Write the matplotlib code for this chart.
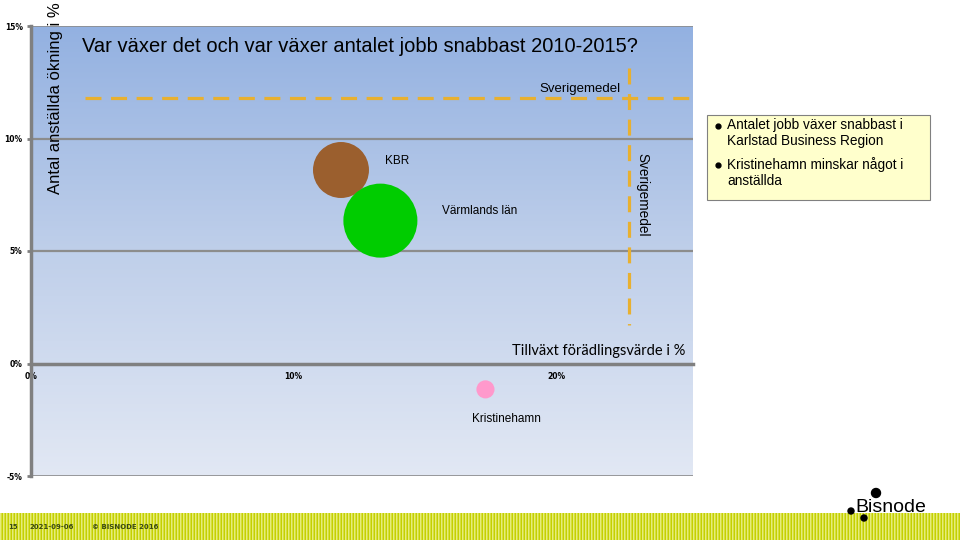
import numpy as np
import matplotlib
matplotlib.use("Agg")
import matplotlib.pyplot as plt
from matplotlib.patches import Rectangle, Circle
from matplotlib.colors import LinearSegmentedColormap

# ---------------- data ----------------
regions = ["KBR", "Värmlands län", "Kristinehamn"]
growth_value_added = [11.8, 13.3, 17.3]      # x, %
growth_employees = [8.6, 6.35, -1.15]        # y, %
bubble_size = [1625, 2840, 170]              # relative bubble area
bubble_colors = ["#9B5F2E", "#00CC00", "#FF99CC"]
sverige_x = 22.75
sverige_y = 11.8
y_ticks = [-5, 0, 5, 10, 15]
y_tick_labels = ["-5%", "0%", "5%", "10%", "15%"]
x_ticks = [0, 5, 10, 15, 20]
x_tick_labels = ["0%", "", "10%", "", "20%"]

title = "Var växer det och var växer antalet jobb snabbast 2010-2015?"
ylabel = "Antal anställda ökning i %"
xlabel = "Tillväxt förädlingsvärde i %"
bullets = ["Antalet jobb växer snabbast i\nKarlstad Business Region",
           "Kristinehamn minskar något i\nanställda"]

W, H = 960, 540
fig = plt.figure(figsize=(9.6, 5.4), dpi=100)
fig.patch.set_facecolor("white")

# overlay for decorations in pixel coords
ov = fig.add_axes([0, 0, 1, 1], zorder=0)
ov.axis("off")

# footer band
band = np.zeros((1, W))
band[0, ::3] = 1
band[0, 1::3] = 0.5
cm = LinearSegmentedColormap.from_list("f", ["#C4D000", "#E6EC7A"])
ov.imshow(band, extent=(0, W, 540, 513), aspect="auto", cmap=cm, zorder=1, interpolation="nearest")
ov.set_xlim(0, W)
ov.set_ylim(H, 0)
for tx, t in [(8, "15"), (30, "2021-09-06"), (92, "© BISNODE 2016")]:
    ov.text(tx, 527, t, fontsize=5, fontweight="bold", color="#3A4A10", va="center", ha="left", zorder=3)

# Bisnode logo
ov.text(855, 508, "Bisnode", fontsize=14, color="black", va="center", ha="left",
        family="Liberation Sans", zorder=4)
for (cx, cy, r) in [(876, 493, 4.5), (851, 511, 3), (864, 518, 3)]:
    ov.add_patch(Circle((cx, cy), r, color="black", zorder=4))

# ---------------- main axes ----------------
x0, x1, ytop, ybot = 31, 693, 26, 476
ax = fig.add_axes([x0 / W, 1 - ybot / H, (x1 - x0) / W, (ybot - ytop) / H], zorder=2)
ax.set_xlim(0, 25.2)
ax.set_ylim(-5, 15)

grad = np.linspace(1, 0, 256).reshape(-1, 1)
gcm = LinearSegmentedColormap.from_list("g", ["#E2E8F4", "#BFCFEA", "#93B1E1"])
ax.imshow(grad, extent=(0, 25.2, -5, 15), aspect="auto", cmap=gcm, zorder=0, origin="upper")

for s in ["top", "right"]:
    ax.spines[s].set_visible(False)
ax.spines["left"].set_color("#808080")
ax.spines["left"].set_linewidth(2.5)
ax.spines["bottom"].set_position(("data", 0))
ax.spines["bottom"].set_color("#808080")
ax.spines["bottom"].set_linewidth(2.5)
ax.spines["bottom"].set_zorder(1.5)

# grid and borders
for gy in [5, 10]:
    ax.axhline(gy, color="#8C8C8C", lw=1.6, zorder=1)
ax.axhline(15, color="#8C8C8C", lw=1.2, zorder=1)
ax.axhline(-5, color="#808080", lw=1.8, zorder=1)

ax.set_yticks(y_ticks)
ax.set_yticklabels(y_tick_labels, fontsize=5.5, fontweight="bold")
ax.tick_params(axis="y", length=3, width=2, color="#808080", pad=3)
ax.set_xticks(x_ticks)
ax.set_xticklabels(x_tick_labels, fontsize=5.5, fontweight="bold")
ax.tick_params(axis="x", length=2, width=2, color="#808080", pad=5, direction="inout")

# Sverigemedel lines
ax.plot([2.05, 25.2], [sverige_y, sverige_y], color="#E8B030", lw=2.3,
        dashes=(5, 3), zorder=3, clip_on=False)
ax.plot([sverige_x, sverige_x], [13.15, 1.7], color="#E8B030", lw=2.3,
        dashes=(5, 3), zorder=3)
ax.text(sverige_x - 0.3, sverige_y + 0.15, "Sverigemedel", fontsize=9.5, ha="right",
        va="bottom", family="Liberation Sans", zorder=4)
ax.text(sverige_x + 0.25, 7.5, "Sverigemedel", fontsize=9.8, rotation=-90, ha="left",
        va="center", family="Liberation Sans", zorder=4)

# bubbles
ax.scatter(growth_value_added, growth_employees, s=bubble_size, c=bubble_colors,
           zorder=5, linewidths=0)
label_pos = [(2.15, 0.4, "center"), (2.35, 0.45, "left"), (0.8, -1.3, "center")]
for xv, yv, name, (dx, dy, ha) in zip(growth_value_added, growth_employees, regions, label_pos):
    ax.text(xv + dx, yv + dy, name, fontsize=8.5, ha=ha, va="center",
            family="Liberation Sans", zorder=6)

ax.text(24.9, 0.25, xlabel, fontsize=10.5, ha="right", va="bottom", family="Lato", zorder=6)

# title and y label
fig.text(82 / W, 1 - 47 / H, title, fontsize=14.5, ha="left", va="center",
         family="Liberation Sans", zorder=10)
fig.text(56 / W, 1 - 98 / H, ylabel, fontsize=12, rotation=90, ha="center", va="center",
         family="Liberation Sans", zorder=10)

# text box
ov2 = fig.add_axes([0, 0, 1, 1], zorder=8)
ov2.set_xlim(0, W)
ov2.set_ylim(H, 0)
ov2.axis("off")
ov2.add_patch(Rectangle((707, 115), 223, 85, facecolor="#FFFFCC", edgecolor="#808080", lw=0.8))
for by, b in [(126, bullets[0]), (165, bullets[1])]:
    ov2.plot([718], [by], "o", color="black", ms=3.5)
    ov2.text(727, by - 8, b, fontsize=9.8, ha="left", va="top", family="Liberation Sans",
             linespacing=1.15)

fig.savefig("out.png", dpi=100)
